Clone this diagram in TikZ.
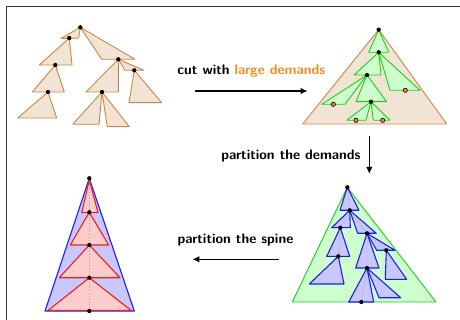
\documentclass[tikz,border=0pt]{standalone}
\usetikzlibrary{arrows.meta}
\definecolor{tanfill}{RGB}{242,228,212}
\definecolor{tanline}{RGB}{200,135,70}
\definecolor{grfill}{RGB}{204,255,204}
\definecolor{grline}{RGB}{30,205,30}
\definecolor{blfill}{RGB}{200,200,255}
\definecolor{blline}{RGB}{30,30,230}
\definecolor{rdfill}{RGB}{255,204,204}
\definecolor{rdline}{RGB}{240,30,30}
\definecolor{demand}{RGB}{245,140,30}
\tikzset{
  tant/.style={fill=tanfill,draw=tanline,line width=0.9pt,line join=round},
  bigtan/.style={fill=tanfill,draw=tanline,line width=0.9pt,line join=round},
  grt/.style={fill=grfill,draw=grline,line width=0.9pt,line join=round},
  blt/.style={fill=blfill,draw=blline,line width=1.1pt,line join=round},
  rdt/.style={fill=rdfill,draw=rdline,line width=1.1pt,line join=round},
  dot/.style={circle,fill=black,inner sep=0pt,minimum size=4.3pt},
  odot/.style={circle,fill=demand,draw=black,line width=0.6pt,inner sep=0pt,minimum size=4.3pt},
  spine/.style={gray!70,dotted,line width=0.8pt},
  lbl/.style={font=\fontsize{13.8}{16}\selectfont\sffamily\bfseries,inner sep=0pt},
  bigarrow/.style={-{Latex[length=7pt,width=6.5pt]},line width=1.6pt},
  frame/.style={draw=black!80,line width=1pt}
}
\begin{document}
\begin{tikzpicture}[x=1pt,y=-1pt]
\useasboundingbox (0,0) rectangle (460,320);
\coordinate (fa) at (6,330);
\coordinate (fb) at (6,7);
\coordinate (fc) at (470,7);
\draw[frame] (fa) -- (fb) -- (fc);

% ---------- top-left: tree of pieces ----------
\coordinate (a0) at (80.3,27.3);
\coordinate (a1) at (69.3,38);
\coordinate (a2) at (55.3,65);
\coordinate (a3) at (48,92);
\coordinate (a4) at (118.3,59.3);
\coordinate (a5) at (134.3,70.3);
\coordinate (a6) at (102,92);
\draw[tant] (a0) -- (61,38.5) -- (78.7,38) -- cycle;
\draw[tant] (a0) -- (101.7,59.3) -- (135,59.3) -- cycle;
\draw[tant] (a1) -- (39.3,65) -- (72,65) -- cycle;
\draw[tant] (a2) -- (32.3,92) -- (64.3,92) -- cycle;
\draw[tant] (a3) -- (17.7,118) -- (56.7,118) -- cycle;
\draw[tant] (a4) -- (86,92) -- (118.3,92) -- cycle;
\draw[tant] (a4) -- (125,70.3) -- (144,70.3) -- cycle;
\draw[tant] (a5) -- (129,102.7) -- (161.7,102.7) -- cycle;
\draw[tant] (a6) -- (72.7,124.3) -- (99,124.3) -- cycle;
\draw[tant] (a6) -- (107.3,126.7) -- (129.3,126.7) -- cycle;
\foreach \p in {a0,a1,a2,a3,a4,a5,a6} \node[dot] at (\p) {};

% ---------- top-right: cut with large demands ----------
\coordinate (b0) at (378.7,29.7);
\coordinate (b1) at (378.7,52.3);
\coordinate (b2) at (367,75);
\coordinate (b3) at (371,101.7);
\draw[bigtan] (b0) -- (302.7,124) -- (446.7,124) -- cycle;
\draw[grt] (b0) -- (368.7,52.3) -- (388.7,52.3) -- cycle;
\draw[grt] (b1) -- (354,75) -- (381,75) -- cycle;
\draw[grt] (b1) -- (390,90.3) -- (420,90.3) -- cycle;
\draw[grt] (b2) -- (321.7,104.3) -- (345,104.3) -- cycle;
\draw[grt] (b2) -- (356,101.7) -- (386.7,101.7) -- cycle;
\draw[grt] (b3) -- (346.7,120.3) -- (366,120.3) -- cycle;
\draw[grt] (b3) -- (373.3,120.3) -- (390,120.3) -- cycle;
\foreach \p in {b0,b1,b2,b3} \node[dot] at (\p) {};
\node[odot] (o1) at (405.3,90.3) {};
\node[odot] (o2) at (333.3,104.3) {};
\node[odot] (o3) at (356,120.3) {};
\node[odot] (o4) at (382.7,120.3) {};

% ---------- bottom-right: partition the demands ----------
\coordinate (c0) at (347.3,187.3);
\coordinate (c1) at (349.7,210.3);
\coordinate (c2) at (340.3,227.7);
\coordinate (c3) at (338.3,256.3);
\coordinate (c4) at (367,233.3);
\coordinate (c5) at (386.3,250.3);
\coordinate (c6) at (367,268);
\coordinate (c7) at (361.3,302);
\draw[grt] (c0) -- (292.3,302) -- (436,302) -- cycle;
\draw[blt] (c0) -- (340,210.3) -- (359,210.3) -- cycle;
\draw[blt] (c1) -- (331.7,227.7) -- (350.3,227.7) -- cycle;
\draw[blt] (c1) -- (357.7,233.3) -- (376.3,233.3) -- cycle;
\draw[blt] (c2) -- (326.7,256.3) -- (349.7,256.3) -- cycle;
\draw[blt] (c3) -- (309.3,284) -- (344,284) -- cycle;
\draw[blt] (c4) -- (355.7,268) -- (379,268) -- cycle;
\draw[blt] (c4) -- (376.7,250.3) -- (395,250.3) -- cycle;
\draw[blt] (c5) -- (385.3,279.3) -- (406.7,279.3) -- cycle;
\draw[blt] (c6) -- (348.7,302) -- (373.7,302) -- cycle;
\draw[blt] (c6) -- (379,297.7) -- (400.7,297.7) -- cycle;
\draw[spine] (c0) -- (c1) -- (c2) -- (c3);
\draw[spine] (c1) -- (c4) -- (c6) -- (c7);
\draw[spine] (c4) -- (c5);
\foreach \p in {c0,c1,c2,c3,c4,c5,c6,c7} \node[dot] at (\p) {};

% ---------- bottom-left: partition the spine ----------
\coordinate (d0) at (89.3,178.3);
\coordinate (d1) at (89.3,212.3);
\coordinate (d2) at (89.3,245);
\coordinate (d3) at (89.3,277.7);
\coordinate (d4) at (89.3,311);
\draw[blt] (d0) -- (45,311) -- (134.3,311) -- cycle;
\draw[rdt] (89.3,180) -- (81.7,212.7) -- (98,212.7) -- cycle;
\draw[rdt] (d1) -- (70.3,245) -- (108.7,245) -- cycle;
\draw[rdt] (d2) -- (59.3,277.7) -- (120,277.7) -- cycle;
\draw[rdt] (d3) -- (48.3,310.3) -- (131,310.3) -- cycle;
\draw[spine] (d0) -- (d4);
\foreach \p in {d0,d1,d2,d3,d4} \node[dot] at (\p) {};

% ---------- arrows and labels ----------
\node[lbl] (l1) at (251.3,71) {cut with \textcolor{demand}{large demands}};
\coordinate (r1s) at (195,91);
\coordinate (r1e) at (307.7,91);
\draw[bigarrow] (r1s) -- (r1e);
\node[lbl] (l2) at (291,156) {partition the demands};
\coordinate (r2s) at (369.3,136);
\coordinate (r2e) at (369.3,174);
\draw[bigarrow] (r2s) -- (r2e);
\node[lbl] (l3) at (235.5,240) {partition the spine};
\coordinate (r3s) at (279.3,259.3);
\coordinate (r3e) at (192.3,259.3);
\draw[bigarrow] (r3s) -- (r3e);
\end{tikzpicture}
\end{document}
